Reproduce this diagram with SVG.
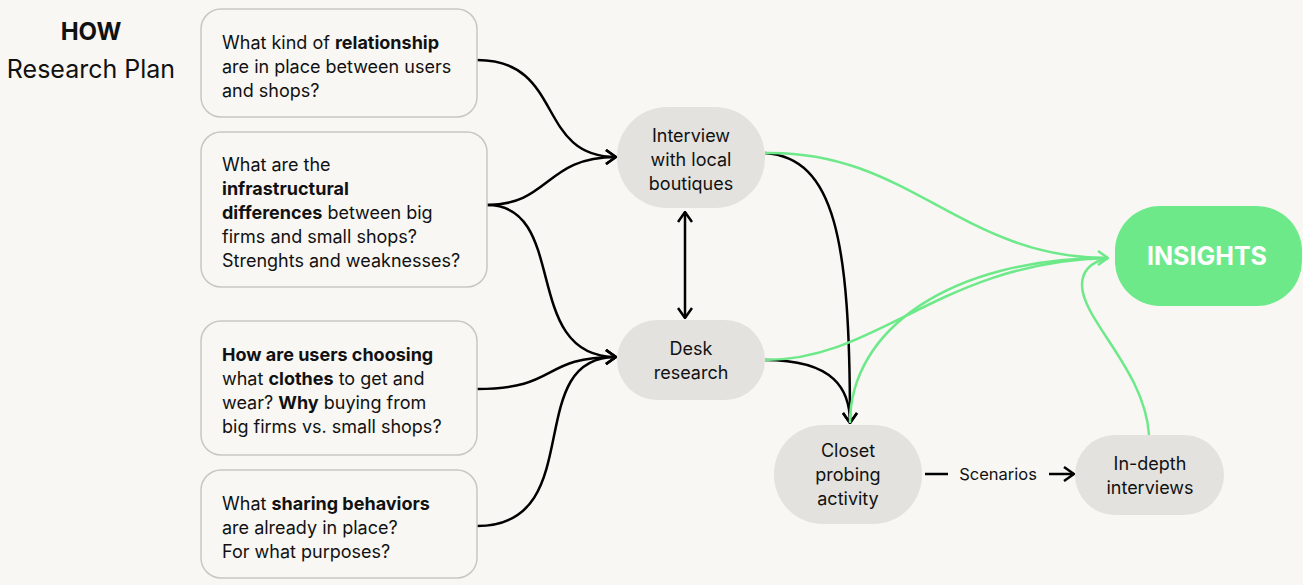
<svg xmlns="http://www.w3.org/2000/svg" width="1303" height="585" viewBox="0 0 1303 585">
<style>
text{font-family:Inter,"Noto Sans",sans-serif;fill:#111;font-size:18px}
.q{fill:#f8f7f4;stroke:#c9c7c1;stroke-width:1.5}
.n{fill:#e3e2de}
.b{font-weight:700}
.c{text-anchor:middle}
.k{fill:none;stroke:#000;stroke-width:2.5}
.g{fill:none;stroke:#6ee98a;stroke-width:2.5}
</style>
<defs>
<marker id="ak" viewBox="0 0 12 16" refX="11" refY="8" markerWidth="12" markerHeight="16" markerUnits="userSpaceOnUse" orient="auto-start-reverse"><path d="M1,1 L11,8 L1,15" fill="none" stroke="#000" stroke-width="2.5"/></marker>
<marker id="ag" viewBox="0 0 12 16" refX="11" refY="8" markerWidth="12" markerHeight="16" markerUnits="userSpaceOnUse" orient="auto"><path d="M1,1 L11,8 L1,15" fill="none" stroke="#6ee98a" stroke-width="2.5"/></marker>
</defs>
<rect width="1303" height="585" fill="#f8f7f4"/>
<g id="title">
<text x="91" y="40" class="c b" style="font-size:24px">HOW</text>
<text x="91" y="78" class="c" style="font-size:25px">Research Plan</text>
</g>
<g id="connectors">
<path class="k" d="M477,60 C565,60 535,157 616,157" marker-end="url(#ak)"/>
<path class="k" d="M487,205 C550,205 545,157 616,157" marker-end="url(#ak)"/>
<path class="k" d="M487,205 C570,205 520,357 616,357" marker-end="url(#ak)"/>
<path class="k" d="M477,389 C560,389 540,357 616,357" marker-end="url(#ak)"/>
<path class="k" d="M477,526 C590,526 520,357 616,357" marker-end="url(#ak)"/>
<path class="k" d="M685,212 L685,318" marker-start="url(#ak)" marker-end="url(#ak)"/>
<path class="k" d="M765,153 C835,158 850,240 850,423" marker-end="url(#ak)"/>
<path class="k" d="M765,360 C835,360 850,390 850,423" marker-end="url(#ak)"/>
<path class="g" d="M765,153 C910,150 960,258 1108,258" marker-end="url(#ag)"/>
<path class="g" d="M765,360 C880,360 940,262 1108,258"/>
<path class="g" d="M850,423 C850,330 950,258 1108,258"/>
<path class="g" d="M1149,435 C1145,370 1082,320 1082,285 C1082,268 1095,261 1108,258"/>
<path class="k" d="M925,474 L948,474"/>
<path class="k" d="M1049,474 L1074,474" marker-end="url(#ak)"/>
<text x="998" y="480" class="c" style="font-size:16.5px">Scenarios</text>
</g>
<g id="q1">
<rect class="q" x="201" y="9" width="276" height="108" rx="20"/>
<text x="222" y="49">What kind of <tspan class="b">relationship</tspan></text>
<text x="222" y="73">are in place between users</text>
<text x="222" y="97">and shops?</text>
</g>
<g id="q2">
<rect class="q" x="201" y="132" width="286" height="155" rx="20"/>
<text x="222" y="171">What are the</text>
<text x="222" y="195" class="b">infrastructural</text>
<text x="222" y="219"><tspan class="b">differences</tspan> between big</text>
<text x="222" y="243">firms and small shops?</text>
<text x="222" y="267">Strenghts and weaknesses?</text>
</g>
<g id="q3">
<rect class="q" x="201" y="321" width="276" height="134" rx="20"/>
<text x="222" y="361" class="b">How are users choosing</text>
<text x="222" y="385">what <tspan class="b">clothes</tspan> to get and</text>
<text x="222" y="409">wear? <tspan class="b">Why</tspan> buying from</text>
<text x="222" y="433">big firms vs. small shops?</text>
</g>
<g id="q4">
<rect class="q" x="201" y="470" width="276" height="108" rx="20"/>
<text x="222" y="510">What <tspan class="b">sharing behaviors</tspan></text>
<text x="222" y="534">are already in place?</text>
<text x="222" y="558">For what purposes?</text>
</g>
<g id="interview">
<rect class="n" x="617" y="107" width="148" height="101" rx="50"/>
<text x="691" y="142" class="c">Interview</text>
<text x="691" y="166" class="c">with local</text>
<text x="691" y="190" class="c">boutiques</text>
</g>
<g id="desk">
<rect class="n" x="617" y="320" width="148" height="80" rx="40"/>
<text x="691" y="355" class="c">Desk</text>
<text x="691" y="379" class="c">research</text>
</g>
<g id="closet">
<rect class="n" x="774" y="425" width="148" height="99" rx="49"/>
<text x="848" y="457" class="c">Closet</text>
<text x="848" y="481" class="c">probing</text>
<text x="848" y="505" class="c">activity</text>
</g>
<g id="indepth">
<rect class="n" x="1075" y="435" width="149" height="80" rx="40"/>
<text x="1150" y="470" class="c">In-depth</text>
<text x="1150" y="494" class="c">interviews</text>
</g>
<g id="insights">
<rect x="1115" y="206" width="187" height="100" rx="45" fill="#6ee98a"/>
<text x="1207" y="265" class="c b" style="font-size:25px;fill:#fff">INSIGHTS</text>
</g>
</svg>
